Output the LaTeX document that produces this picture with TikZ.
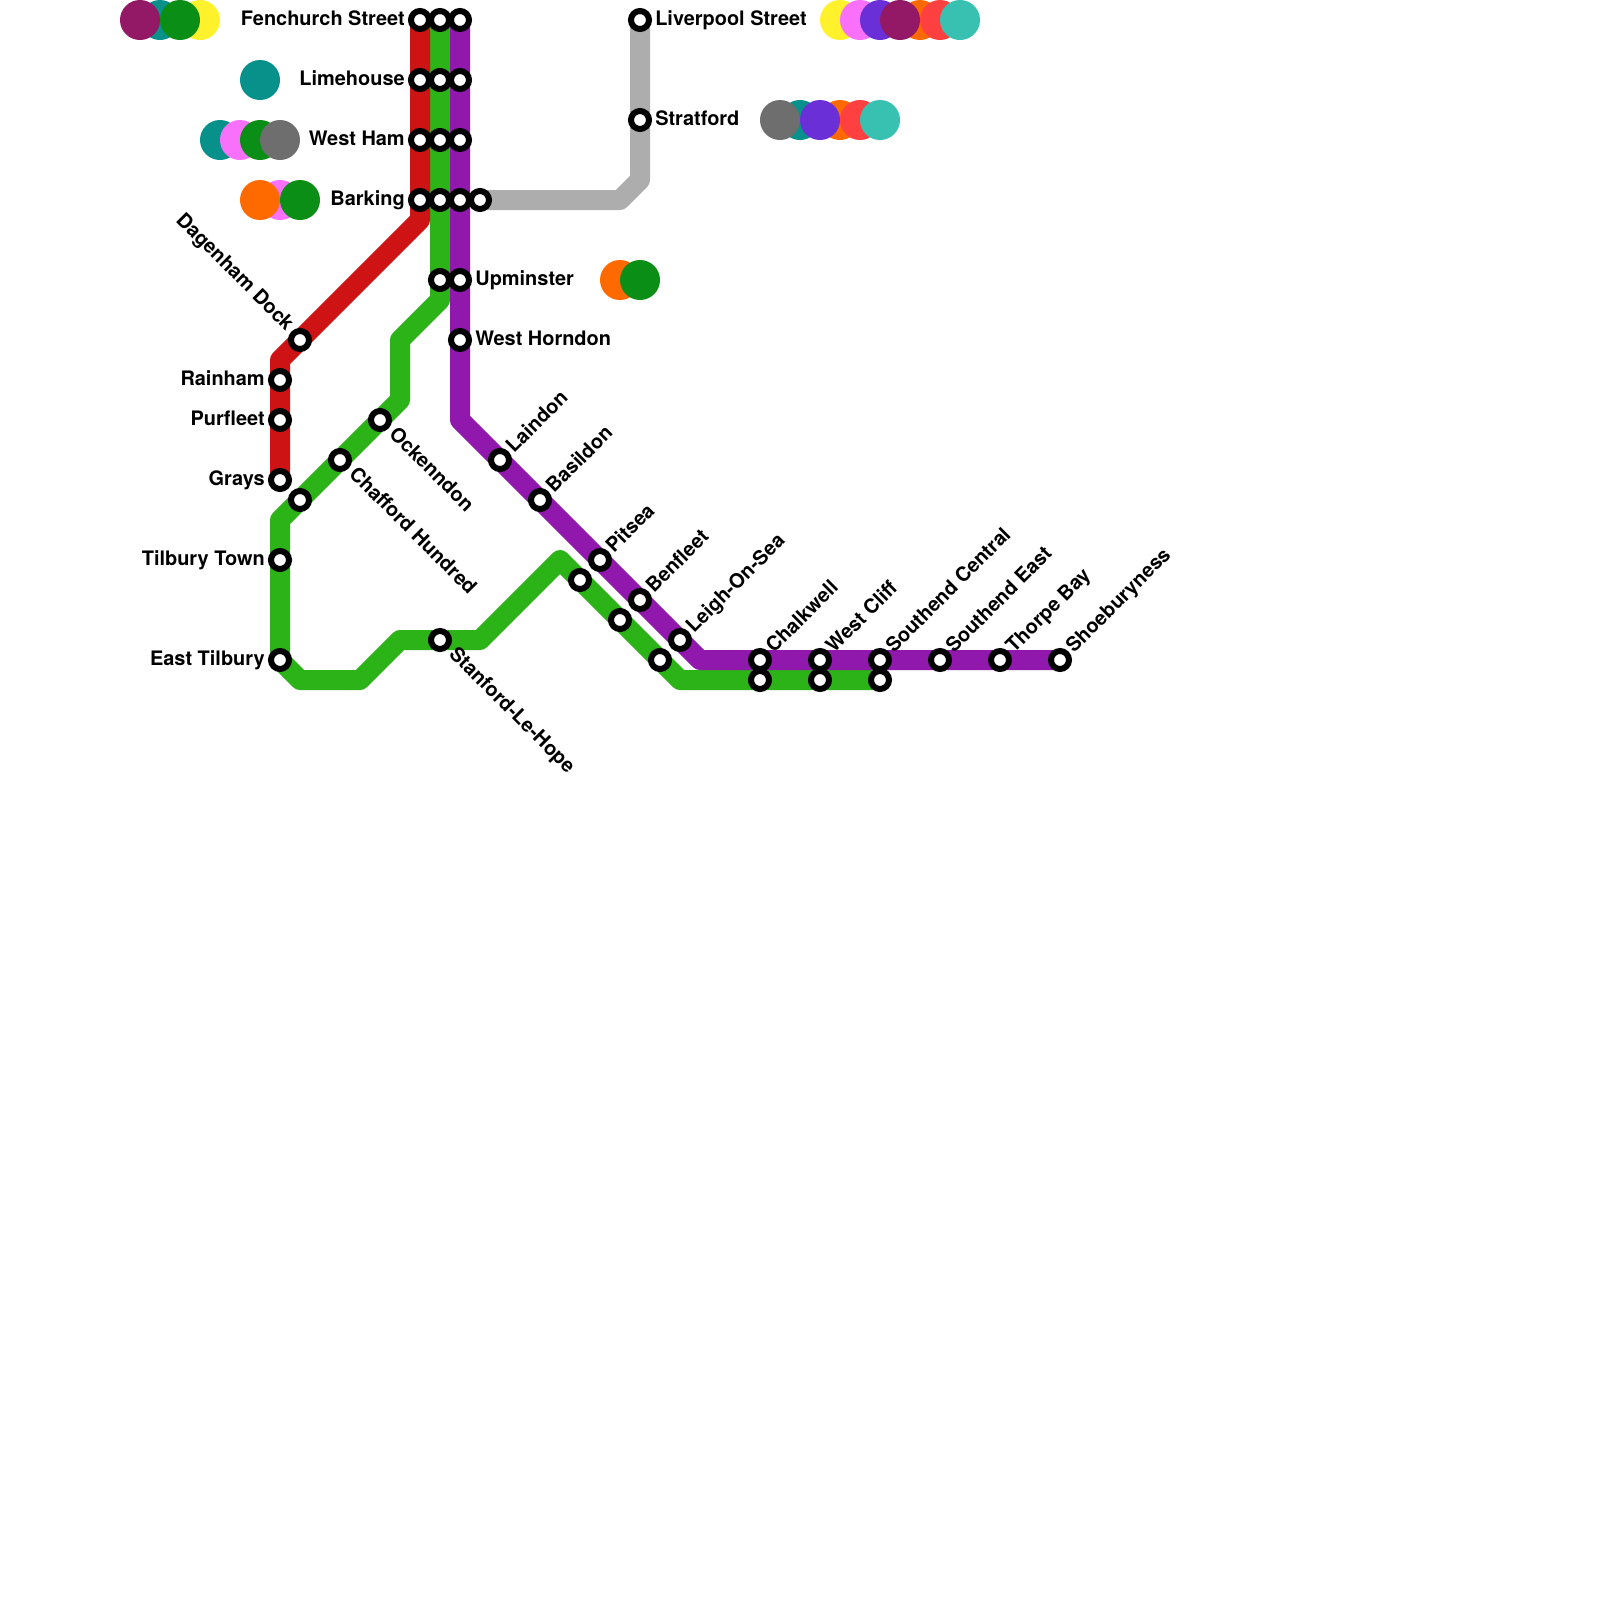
\documentclass[tikz,border=0pt]{standalone}
\usepackage{fontspec}
\setmainfont{TeX Gyre Heros}
\usetikzlibrary{backgrounds}

\definecolor{lineRed}{HTML}{CD1313}
\definecolor{lineGreen}{HTML}{2BB318}
\definecolor{linePurple}{HTML}{9018AD}
\definecolor{lineGrey}{HTML}{ADADAD}
\definecolor{hubTeal}{HTML}{08918A}
\definecolor{hubPink}{HTML}{F971FB}
\definecolor{hubGreen}{HTML}{0A8E16}
\definecolor{hubYellow}{HTML}{FFF12B}
\definecolor{hubOrange}{HTML}{FF6A00}
\definecolor{hubMauve}{HTML}{931865}
\definecolor{hubIndigo}{HTML}{6A2FD6}
\definecolor{hubCoral}{HTML}{FF4040}
\definecolor{hubAqua}{HTML}{38C1B0}
\definecolor{hubGrey}{HTML}{6E6E6E}

\tikzset{
  station/.style={circle, draw=black, fill=white, line width=0.15cm, minimum size=0.45cm, inner sep=0pt},
  hub/.style={circle, fill=#1, minimum size=1cm, inner sep=0pt},
  metro/.style={draw=#1, line width=0.5cm, line join=round},
  lbl/.style={font=\fontsize{14.18}{17}\selectfont\bfseries, inner sep=0pt},
  lblw/.style={lbl, anchor=base east},
  lble/.style={lbl, anchor=base west},
  lblup/.style={lbl, anchor=base west, rotate=45},
  lbldown/.style={lbl, anchor=base west, rotate=-45},
  lbldock/.style={lbl, anchor=base east, rotate=-45}
}

\begin{document}
\begin{tikzpicture}[x=0.025cm,y=-0.025cm]
    \useasboundingbox (0,0) rectangle (1600,1600);

    % interchange discs
    \node[hub=hubYellow] at (200,20) (fen_yellow) {};
    \node[hub=hubTeal]   at (160,20) (fen_teal) {};
    \node[hub=hubMauve]  at (140,20) (fen_mauve) {};
    \node[hub=hubGreen]  at (180,20) (fen_green) {};
    \node[hub=hubTeal]   at (260,80) (lim_teal) {};
    \node[hub=hubTeal]   at (220,140) (ham_teal) {};
    \node[hub=hubPink]   at (240,140) (ham_pink) {};
    \node[hub=hubGreen]  at (260,140) (ham_green) {};
    \node[hub=hubGrey]   at (280,140) (ham_grey) {};
    \node[hub=hubPink]   at (280,200) (bar_pink) {};
    \node[hub=hubOrange] at (260,200) (bar_orange) {};
    \node[hub=hubGreen]  at (300,200) (bar_green) {};
    \node[hub=hubOrange] at (620,280) (upm_orange) {};
    \node[hub=hubGreen]  at (640,280) (upm_green) {};
    \node[hub=hubYellow] at (840,20) (liv_yellow) {};
    \node[hub=hubPink]   at (860,20) (liv_pink) {};
    \node[hub=hubIndigo] at (880,20) (liv_indigo) {};
    \node[hub=hubOrange] at (920,20) (liv_orange) {};
    \node[hub=hubMauve]  at (900,20) (liv_mauve) {};
    \node[hub=hubCoral]  at (940,20) (liv_coral) {};
    \node[hub=hubAqua]   at (960,20) (liv_aqua) {};
    \node[hub=hubTeal]   at (800,120) (str_teal) {};
    \node[hub=hubGrey]   at (780,120) (str_grey) {};
    \node[hub=hubOrange] at (840,120) (str_orange) {};
    \node[hub=hubIndigo] at (820,120) (str_indigo) {};
    \node[hub=hubCoral]  at (860,120) (str_coral) {};
    \node[hub=hubAqua]   at (880,120) (str_aqua) {};

    % stations
    \node[station] at (420,20)   (fen_r) {};
    \node[station] at (440,20)   (fen_g) {};
    \node[station] at (460,20)   (fen_p) {};
    \node[station] at (420,80)   (lim_r) {};
    \node[station] at (440,80)   (lim_g) {};
    \node[station] at (460,80)   (lim_p) {};
    \node[station] at (420,140)  (ham_r) {};
    \node[station] at (440,140)  (ham_g) {};
    \node[station] at (460,140)  (ham_p) {};
    \node[station] at (420,200)  (bar_r) {};
    \node[station] at (440,200)  (bar_g) {};
    \node[station] at (460,200)  (bar_p) {};
    \node[station] at (480,200)  (bar_s) {};
    \node[station] at (440,280)  (upm_g) {};
    \node[station] at (460,280)  (upm_p) {};
    \node[station] at (460,340)  (hor_p) {};
    \node[station] at (640,20)   (liv_s) {};
    \node[station] at (640,120)  (str_s) {};
    \node[station] at (300,340)  (dag_r) {};
    \node[station] at (280,380)  (rai_r) {};
    \node[station] at (280,420)  (pur_r) {};
    \node[station] at (280,480)  (gra_r) {};
    \node[station] at (300,500)  (gra_g) {};
    \node[station] at (340,460)  (cha_g) {};
    \node[station] at (380,420)  (ock_g) {};
    \node[station] at (280,560)  (til_g) {};
    \node[station] at (280,660)  (eas_g) {};
    \node[station] at (440,640)  (sta_g) {};
    \node[station] at (580,580)  (pit_g) {};
    \node[station] at (620,620)  (ben_g) {};
    \node[station] at (660,660)  (lei_g) {};
    \node[station] at (760,680)  (cha_w) {};
    \node[station] at (820,680)  (wes_w) {};
    \node[station] at (880,680)  (sou_w) {};
    \node[station] at (500,460)  (lai_p) {};
    \node[station] at (540,500)  (bas_p) {};
    \node[station] at (600,560)  (pit_p) {};
    \node[station] at (640,600)  (ben_p) {};
    \node[station] at (680,640)  (lei_p) {};
    \node[station] at (760,660)  (cha_p) {};
    \node[station] at (820,660)  (wes_p) {};
    \node[station] at (880,660)  (sou_p) {};
    \node[station] at (940,660)  (eas_p) {};
    \node[station] at (1000,660) (tho_p) {};
    \node[station] at (1060,660) (sho_p) {};

    % bends
    \coordinate (r_1) at (420,220);
    \coordinate (r_2) at (280,360);
    \coordinate (g_1) at (440,300);
    \coordinate (g_2) at (400,340);
    \coordinate (g_3) at (400,400);
    \coordinate (g_4) at (280,520);
    \coordinate (g_5) at (300,680);
    \coordinate (g_6) at (360,680);
    \coordinate (g_7) at (400,640);
    \coordinate (g_8) at (480,640);
    \coordinate (g_9) at (560,560);
    \coordinate (g_10) at (680,680);
    \coordinate (p_1) at (460,420);
    \coordinate (p_2) at (700,660);
    \coordinate (s_1) at (620,200);
    \coordinate (s_2) at (640,180);

    \begin{pgfonlayer}{background}
    \draw[metro=lineGrey] (bar_s.center) -- (s_1) -- (s_2) -- (str_s.center) -- (liv_s.center);
    \draw[metro=lineGreen] (fen_g.center) -- (g_1) -- (g_2) -- (g_3) -- (g_4) -- (eas_g.center) -- (g_5) -- (g_6) -- (g_7) -- (g_8) -- (g_9) -- (g_10) -- (sou_w.center);
    \draw[metro=linePurple] (fen_p.center) -- (p_1) -- (p_2) -- (sho_p.center);
    \draw[metro=lineRed] (fen_r.center) -- (r_1) -- (r_2) -- (gra_r.center);
    \end{pgfonlayer}

    % labels
    \node[lblw] at (405,25)  (t_fen) {Fenchurch Street};
    \node[lblw] at (405,85)  (t_lim) {Limehouse};
    \node[lblw] at (405,145) (t_ham) {West Ham};
    \node[lblw] at (405,205) (t_bar) {Barking};
    \node[lblw] at (265,385) (t_rai) {Rainham};
    \node[lblw] at (265,425) (t_pur) {Purfleet};
    \node[lblw] at (265,485) (t_gra) {Grays};
    \node[lblw] at (265,565) (t_til) {Tilbury Town};
    \node[lblw] at (265,665) (t_eas) {East Tilbury};
    \node[lble] at (475,285) (t_upm) {Upminster};
    \node[lble] at (475,345) (t_hor) {West Horndon};
    \node[lble] at (655,25)  (t_liv) {Liverpool Street};
    \node[lble] at (655,125) (t_str) {Stratford};
    \node[lbldock] at (286,332) (t_dag) {Dagenham Dock};
    \node[lbldown] at (388,435) (t_ock) {Ockenndon};
    \node[lbldown] at (348,475) (t_cha) {Chafford Hundred};
    \node[lbldown] at (448,655) (t_sta) {Stanford-Le-Hope};
    \node[lblup] at (514,454)  (t_lai) {Laindon};
    \node[lblup] at (554,494)  (t_bas) {Basildon};
    \node[lblup] at (614,554)  (t_pit) {Pitsea};
    \node[lblup] at (654,594)  (t_ben) {Benfleet};
    \node[lblup] at (694,634)  (t_lei) {Leigh-On-Sea};
    \node[lblup] at (774,654)  (t_chk) {Chalkwell};
    \node[lblup] at (834,654)  (t_wes) {West Cliff};
    \node[lblup] at (894,654)  (t_sou) {Southend Central};
    \node[lblup] at (954,654)  (t_soe) {Southend East};
    \node[lblup] at (1014,654) (t_tho) {Thorpe Bay};
    \node[lblup] at (1074,654) (t_sho) {Shoeburyness};
\end{tikzpicture}
\end{document}
